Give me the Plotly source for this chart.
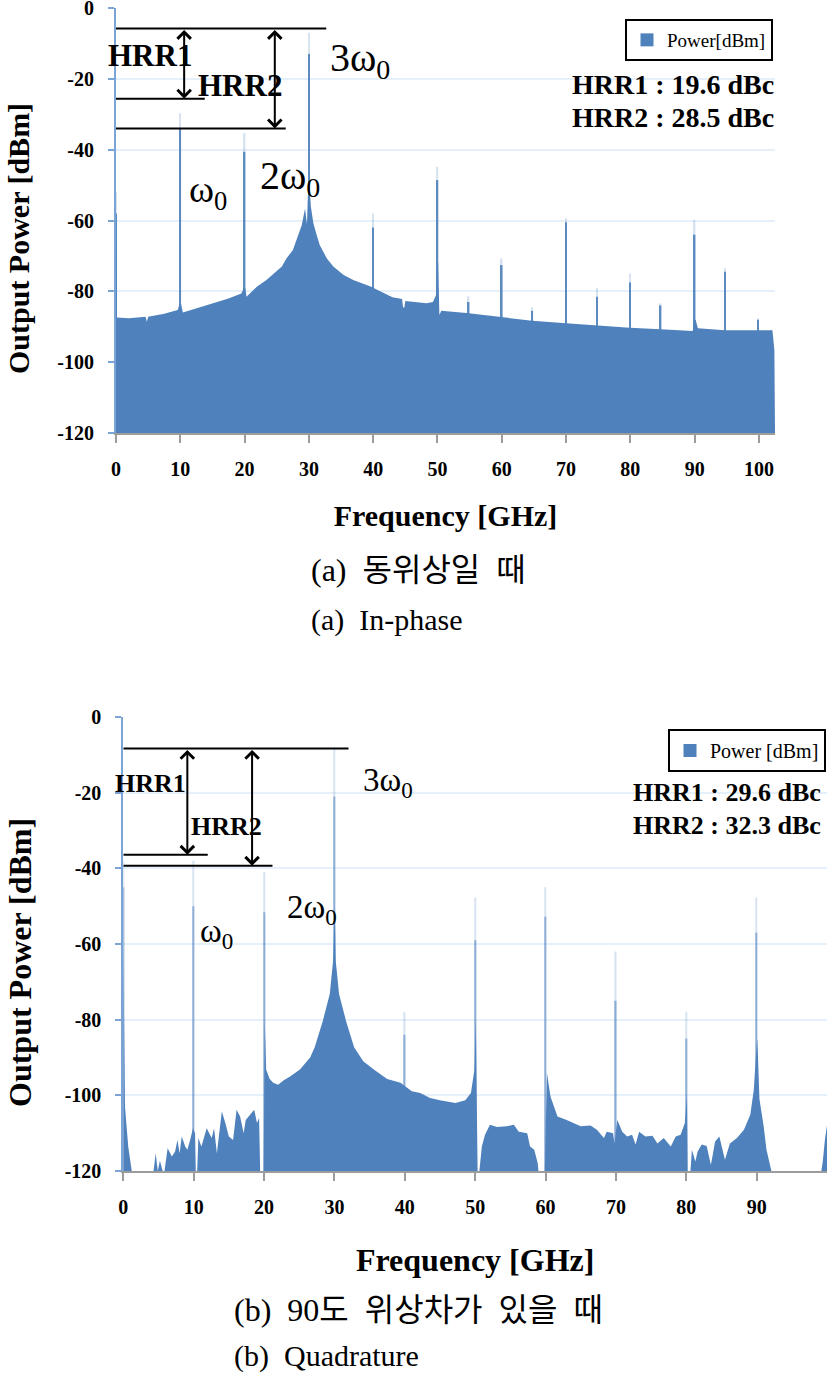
import plotly.graph_objects as go

W, H = 827, 1374
BLUE = '#4f81bd'
SERIF = 'Liberation Serif, Noto Sans CJK KR'

# (a) in-phase: noise floor
freq_a = [0, 0.15, 2, 4.6, 4.8, 5.0, 7.5, 9.6, 9.88, 10.12, 10.4, 14.7, 15.1, 17.5, 19.5, 19.9, 20.1, 20.3,
          21.9, 23.4, 25.8, 26.5, 27.5, 28.3, 28.9, 29.4, 29.7, 29.9, 30.1, 30.3, 30.7, 31.2, 31.7, 32.8, 33.8,
          35.4, 36.9, 39.7, 40.3, 43, 44.5, 44.65, 44.85, 45, 48.3, 49.3, 49.8, 49.95, 50.1, 50.3, 50.6, 54.5,
          59.8, 60.2, 64.7, 70, 74.8, 79.9, 84.7, 89.7, 89.95, 90.15, 90.5, 94.7, 99.8, 102.1, 102.4, 102.5]
power_a = [-60, -87.4, -87.6, -87.2, -88.6, -87.2, -86.3, -85.3, -83.5, -83.5, -86, -83.6, -83.4, -82, -80.6,
           -79, -79, -81.5, -78.7, -76.8, -73, -70.7, -68.4, -64.6, -61.3, -56.6, -61, -50, -50, -56, -60.8, -64,
           -67, -70.7, -73, -75.4, -76.8, -78.7, -79.3, -81.7, -82.2, -84.6, -84.6, -82.7, -83.4, -83, -81, -72,
           -72, -86.7, -85.5, -86.1, -87.2, -87.4, -88.3, -89, -89.7, -90.3, -90.7, -91.2, -88, -88, -90.4, -91,
           -91, -91, -96.6, -120]
spike_f_a = [0, 10, 20, 30, 40, 50, 54.85, 60, 64.75, 70, 74.8, 79.95, 84.7, 90, 94.75, 99.85]
spike_top_a = [-52, -29.7, -35.4, -7, -58, -44.8, -81.4, -70.7, -84.5, -59.4, -79, -75, -83.4, -59.9, -73.4, -87.6]
spike_solid_a = [-58, -34, -40.6, -13, -62, -48.6, -83, -72.6, -85.5, -60.5, -81.5, -77.5, -84, -64, -74.5, -88]

# (b) quadrature
freq_b = [0, 0.24, 0.7, 1.2, 4.3, 4.6, 4.9, 5.2, 5.6, 5.85, 6.3, 6.9, 7.35, 7.7, 8, 8.3, 8.8, 9.1, 9.5, 9.9,
          10.2, 10.3, 10.5, 10.67, 11.1, 11.85, 12.56, 12.9, 13.3, 14, 14.5, 15, 15.6, 16.1, 16.6, 17.1, 17.4,
          18, 18.6, 19, 19.3, 19.45, 19.8, 19.95, 20.1, 20.3, 20.8, 21.3, 22, 22.8, 23.7, 25.1, 26.55, 27.2,
          28.34, 29.34, 29.81, 29.95, 30.05, 30.19, 30.66, 31.66, 32.8, 34.1, 35.6, 37.5, 39.4, 41, 42.2, 43.6,
          45, 47.2, 48.6, 49.4, 49.9, 50.1, 50.3, 50.35, 50.6, 50.95, 51.4, 52.1, 53.1, 54.5, 55.5, 56.2, 57.4,
          57.8, 58.4, 58.9, 59, 59.8, 59.9, 60.2, 60.7, 61.7, 63, 65, 66.4, 67.3, 68.3, 68.7, 69.6, 69.8, 70.2,
          70.9, 71.6, 72.3, 72.8, 73.3, 74.2, 75.2, 75.9, 76.8, 77.8, 78.5, 79.2, 79.8, 80.1, 80.2, 80.6, 80.8,
          81.3, 81.6, 82.2, 82.9, 83.5, 84.1, 84.7, 85.5, 86.2, 87.2, 88.2, 89.1, 89.6, 89.9, 90.1, 90.4, 91,
          91.4, 92.1, 99.2, 99.4, 99.7, 100]
power_b = [-60, -103, -113.5, -120, -120, -115.3, -120, -117.3, -120, -120, -114, -116.2, -114.9, -111.8, -115.3,
           -110.9, -113.5, -114.4, -111.8, -108.7, -110, -120, -120, -111.3, -113.5, -108.7, -111.3, -108.7,
           -115.3, -104.2, -107.3, -110.9, -111.8, -103.8, -105.6, -110, -106.5, -105.1, -103.8, -107.3, -106,
           -120, -120, -120, -80, -93.2, -95.7, -96.7, -97.2, -96, -95, -93.2, -90, -87.3, -80.4, -73.2, -64.5,
           -50, -50, -64.5, -73.2, -80.4, -87.3, -91, -93.2, -95.7, -96.7, -98.9, -99.4, -100.7, -101.3, -102,
           -101.3, -99.4, -93.2, -80, -103, -120, -120, -113.5, -110.4, -107.8, -108.4, -108.2, -107.8, -109.6,
           -110, -113.5, -114.4, -118, -120, -120, -120, -94, -100.3, -105.6, -106.5, -108.2, -108, -109.1,
           -111.3, -109.6, -110, -112.7, -106.5, -109.6, -110.9, -110.4, -113, -109.6, -110.9, -110.7, -112.7,
           -111.3, -113.5, -110.9, -110.4, -107.3, -100, -120, -120, -114.4, -117.5, -114.9, -113, -113.4, -118.4,
           -112.2, -110.9, -117, -112.7, -111.3, -109.1, -105.1, -98.5, -89.6, -85, -101, -108.2, -114.4, -120,
           -120, -117.5, -111.8, -108]
spike_f_b = [0, 10, 20, 30, 40, 50, 60, 70, 80, 90]
spike_top_b = [-38, -38, -41, -8, -78, -47.7, -45, -62, -78, -47.7]
spike_solid_b = [-45, -50, -51.6, -21, -84, -59, -52.8, -75, -85, -57]

y_ticks = [0, -20, -40, -60, -80, -100, -120]
y_tick_labels = ['0', '-20', '-40', '-60', '-80', '-100', '-120']
x_ticks_a = [0, 10, 20, 30, 40, 50, 60, 70, 80, 90, 100]
x_ticks_b = [0, 10, 20, 30, 40, 50, 60, 70, 80, 90]

# HRR reference levels: [top, HRR1 bottom, HRR2 bottom], how far each line runs, where the arrows sit
hrr_levels_a = [-5.8, -25.6, -34]
hrr_ends_a = [32.7, 13.8, 26.4]
hrr_arrows_a = [10.6, 24.7]
hrr_levels_b = [-8.3, -36.4, -39.3]
hrr_ends_b = [32, 12, 21.2]
hrr_arrows_b = [9.1, 18.3]


def px(x):
    return x / W


def py(y):
    return 1 - y / H


def label(x, y, text, size, bold=False, anchor='center'):
    # x, y in page pixels
    if bold:
        text = f'<b>{text}</b>'
    return dict(xref='paper', yref='paper', x=px(x), y=py(y), text=text, showarrow=False,
                xanchor=anchor, yanchor='middle', font=dict(family=SERIF, size=size, color='black'))


def arrow(xname, yname, x, top, bottom):
    return dict(xref=xname, yref=yname, axref=xname, ayref=yname, x=x, y=bottom, ax=x, ay=top, text='',
                showarrow=True, arrowside='end+start', arrowhead=4, startarrowhead=4, arrowsize=1.3,
                startarrowsize=1.3, arrowwidth=2, arrowcolor='black')


def add_panel(fig, xname, yname, freq, power, spike_f, spike_top, spike_solid, levels, ends, bar_w, solid_a, legend, name):
    axes = dict(xaxis=xname, yaxis=yname)
    # floor trace so the fill stops at -120 and not at 0
    fig.add_trace(go.Scatter(x=freq, y=[-120] * len(freq), mode='lines', line=dict(width=0),
                             showlegend=False, hoverinfo='skip', **axes))
    fig.add_trace(go.Scatter(x=freq, y=power, mode='lines', line=dict(width=0), fill='tonexty',
                             fillcolor=BLUE, showlegend=False, **axes))
    fig.add_trace(go.Bar(x=spike_f, y=[t + 120 for t in spike_top], base=-120, width=bar_w,
                         marker=dict(color=BLUE, opacity=0.22, line_width=0), showlegend=False, **axes))
    fig.add_trace(go.Bar(x=spike_f, y=[t + 120 for t in spike_solid], base=-120, width=bar_w,
                         marker=dict(color=BLUE, opacity=solid_a, line_width=0), showlegend=False, **axes))
    for lev, end in zip(levels, ends):
        fig.add_trace(go.Scatter(x=[0, end], y=[lev, lev], mode='lines', line=dict(color='black', width=2),
                                 showlegend=False, cliponaxis=False, **axes))
    # only here for the legend box
    fig.add_trace(go.Scatter(x=[None], y=[None], mode='markers', name=name, legend=legend,
                             marker=dict(symbol='square', size=13, color=BLUE), **axes))


fig = go.Figure()
add_panel(fig, 'x', 'y', freq_a, power_a, spike_f_a, spike_top_a, spike_solid_a, hrr_levels_a, hrr_ends_a,
          0.24, 0.9, 'legend', 'Power[dBm]')
add_panel(fig, 'x2', 'y2', freq_b, power_b, spike_f_b, spike_top_b, spike_solid_b, hrr_levels_b, hrr_ends_b,
          0.18, 0.55, 'legend2', 'Power [dBm]')

tick_font = dict(family=SERIF, size=20, color='black', weight='bold')
# automargin off, the template has it on and it shifts the plot areas
y_style = dict(tickvals=y_ticks, ticktext=y_tick_labels, ticks='outside', ticklen=6, tickwidth=2, tickcolor='#7ba4d6',
               showline=True, linecolor='#7ba4d6', linewidth=2, gridcolor='#e6f0fa', gridwidth=1.5, zeroline=False,
               range=[-120, 0], tickfont=tick_font, ticklabelstandoff=10, automargin=False, ticklabeloverflow='allow')
x_style = dict(ticks='outside', ticklen=8, tickwidth=2, tickcolor='#9c9c9c', showline=True, linecolor='#9c9c9c',
               linewidth=2, showgrid=False, zeroline=False, tickfont=tick_font, ticklabelstandoff=9, automargin=False,
               ticklabeloverflow='allow')

annotations = [
    # y axis titles sit lower than the axis centre, so they go in by hand
    dict(label(18, 239, 'Output Power [dBm]', 30, True), textangle=-90),
    dict(label(20, 963, 'Output Power [dBm]', 32, True), textangle=-90),
    # panel a
    label(150, 55, 'HRR1', 31, True),
    label(240, 85, 'HRR2', 31, True),
    label(360, 60, '3ω<sub>0</sub>', 40),
    label(208, 192, 'ω<sub>0</sub>', 38),
    label(290, 178, '2ω<sub>0</sub>', 40),
    label(776, 84, 'HRR1 : 19.6 dBc', 28, True, 'right'),
    label(776, 117, 'HRR2 : 28.5 dBc', 28, True, 'right'),
    label(309, 570, '(a)\u00a0\u00a0동위상일\u00a0\u00a0때', 32, False, 'left'),
    label(309, 620, '(a)\u00a0\u00a0In-phase', 30, False, 'left'),
    # panel b
    label(150, 783, 'HRR1', 26, True),
    label(226, 826, 'HRR2', 26, True),
    label(388, 782, '3ω<sub>0</sub>', 33),
    label(217, 933, 'ω<sub>0</sub>', 33),
    label(312, 910, '2ω<sub>0</sub>', 33),
    label(823, 792, 'HRR1 : 29.6 dBc', 26, True, 'right'),
    label(823, 825, 'HRR2 : 32.3 dBc', 26, True, 'right'),
    label(232, 1310, '(b)\u00a0\u00a090도\u00a0\u00a0위상차가\u00a0\u00a0있을\u00a0\u00a0때', 32, False, 'left'),
    label(232, 1356, '(b)\u00a0\u00a0Quadrature', 30, False, 'left'),
    # HRR arrows
    arrow('x', 'y', hrr_arrows_a[0], hrr_levels_a[0], hrr_levels_a[1]),
    arrow('x', 'y', hrr_arrows_a[1], hrr_levels_a[0], hrr_levels_a[2]),
    arrow('x2', 'y2', hrr_arrows_b[0], hrr_levels_b[0], hrr_levels_b[1]),
    arrow('x2', 'y2', hrr_arrows_b[1], hrr_levels_b[0], hrr_levels_b[2]),
]

fig.update_layout(
    width=W, height=H, autosize=False, margin=dict(l=0, r=0, t=0, b=0),
    paper_bgcolor='white', plot_bgcolor='white', barmode='overlay', hovermode=False,
    xaxis=dict(x_style, domain=[px(116), px(775)], range=[0, 102.5], tickvals=x_ticks_a, anchor='y',
               title=dict(text='<b>Frequency [GHz]</b>', font=dict(family=SERIF, size=30, color='black'), standoff=26)),
    yaxis=dict(y_style, domain=[py(433), py(8)], anchor='x'),
    xaxis2=dict(x_style, domain=[px(123.3), px(827)], range=[0, 100], tickvals=x_ticks_b, anchor='y2',
                title=dict(text='<b>Frequency [GHz]</b>', font=dict(family=SERIF, size=32, color='black'), standoff=32)),
    yaxis2=dict(y_style, domain=[py(1171), py(717)], anchor='x2'),
    legend=dict(x=px(625), y=py(19), xanchor='left', yanchor='top', bgcolor='white', bordercolor='black',
                borderwidth=2, font=dict(family=SERIF, size=19, color='black')),
    legend2=dict(x=px(668), y=py(729), xanchor='left', yanchor='top', bgcolor='white', bordercolor='black',
                 borderwidth=2, font=dict(family=SERIF, size=20, color='black')),
    annotations=annotations,
)

# page default margin would push the whole figure off by a few px
fig.write_html("out.html", config=dict(displayModeBar=False), post_script="document.body.style.margin='0';")
